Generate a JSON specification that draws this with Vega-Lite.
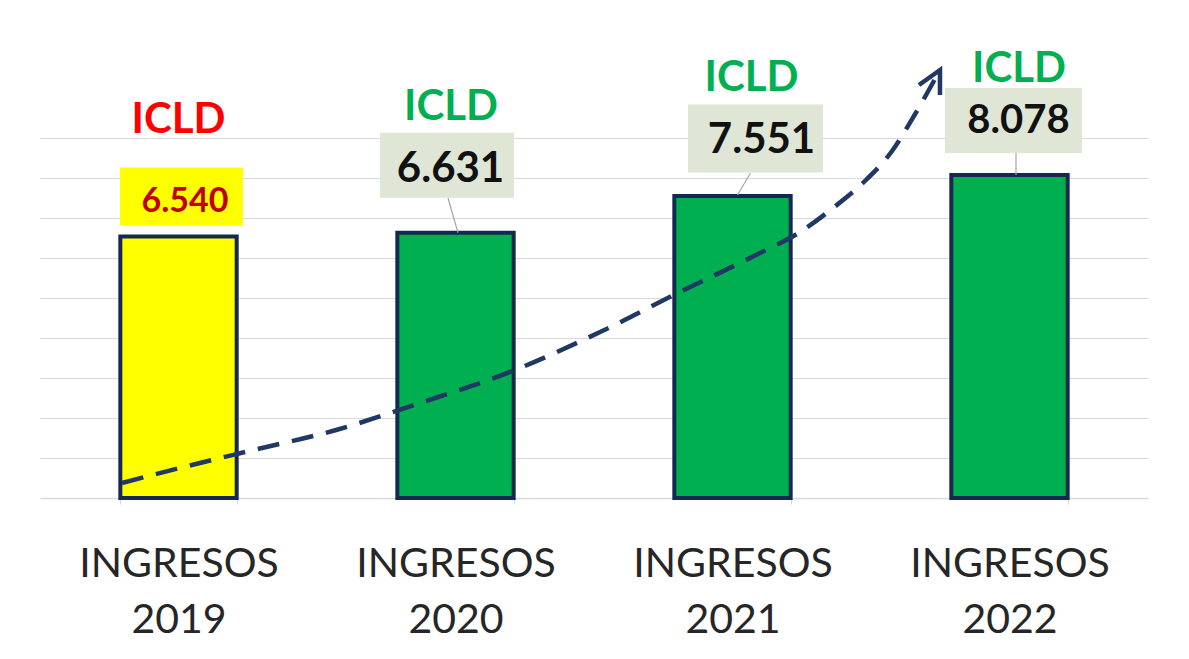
{
  "$schema": "https://vega.github.io/schema/vega-lite/v6.json",
  "width": 1108,
  "height": 360,
  "autosize": {"type": "none"},
  "padding": {"left": 40, "top": 138, "right": 41, "bottom": 161},
  "background": "#FFFFFF",
  "config": {
    "view": {"stroke": null},
    "locale": {"number": {"decimal": ",", "thousands": ".", "grouping": [3], "currency": ["", " €"]}}
  },
  "datasets": {
    "ingresos": [
      {"year": "INGRESOS 2019", "value": 6540},
      {"year": "INGRESOS 2020", "value": 6631},
      {"year": "INGRESOS 2021", "value": 7551},
      {"year": "INGRESOS 2022", "value": 8078}
    ],
    "curva": [
      {"cx": 0.296, "cy": 375},
      {"cx": 0.505, "cy": 750},
      {"cx": 0.74, "cy": 1150},
      {"cx": 1.069, "cy": 1700},
      {"cx": 1.361, "cy": 2350},
      {"cx": 1.715, "cy": 3200},
      {"cx": 2.022, "cy": 4150},
      {"cx": 2.303, "cy": 5125},
      {"cx": 2.599, "cy": 6125},
      {"cx": 2.744, "cy": 6650},
      {"cx": 2.863, "cy": 7250},
      {"cx": 2.982, "cy": 7950},
      {"cx": 3.076, "cy": 8675},
      {"cx": 3.155, "cy": 9550},
      {"cx": 3.249, "cy": 10700}
    ]
  },
  "layer": [
    {
      "data": {"name": "ingresos"},
      "resolve": {"scale": {"shape": "independent"}},
      "layer": [
        {
          "mark": {"type": "bar", "stroke": "#142850", "strokeWidth": 4},
          "encoding": {
            "x": {
              "field": "year", "type": "nominal", "sort": null,
              "scale": {"domain": ["INGRESOS 2019", "INGRESOS 2020", "INGRESOS 2021", "INGRESOS 2022"], "paddingInner": 0.58, "paddingOuter": 0.29},
              "axis": {
                "title": null, "labelAngle": 0,
                "labelExpr": "split(datum.label, ' ')",
                "labelFont": "Lato", "labelFontSize": 41, "labelColor": "#262626",
                "labelLineHeight": 56, "labelBaseline": "alphabetic", "labelPadding": 72,
                "labelOverlap": false, "labelBound": false, "labelLimit": 500,
                "domainColor": "#D9D9D9", "domainWidth": 1.5,
                "tickColor": "#D9D9D9", "tickBand": "extent", "tickSize": 6
              }
            },
            "y": {
              "field": "value", "type": "quantitative",
              "scale": {"domain": [0, 9000], "nice": false},
              "axis": {"title": null, "labels": false, "ticks": false, "domain": false, "grid": true, "gridColor": "#D9D9D9", "gridWidth": 1.2, "values": [1000, 2000, 3000, 4000, 5000, 6000, 7000, 8000, 9000]}
            },
            "color": {"condition": {"test": "datum.year == 'INGRESOS 2019'", "value": "#FFFF00"}, "value": "#00B050"}
          }
        },
        {
          "mark": {"type": "point", "filled": false, "size": 2500, "color": "#A6A6A6", "strokeWidth": 1.2, "opacity": 1},
          "encoding": {
            "x": {"field": "year", "type": "nominal"},
            "y": {"field": "value", "type": "quantitative"},
            "shape": {
              "field": "year", "type": "nominal", "legend": null,
              "scale": {"domain": ["INGRESOS 2019", "INGRESOS 2020", "INGRESOS 2021", "INGRESOS 2022"], "range": ["M0,0L0,0", "M-0.3,-1.39L0.1,0", "M0.72,-0.92L0.2,-0.04", "M0.26,-0.88L0.26,0"]}
            }
          }
        },
        {
          "mark": {"type": "point", "filled": true, "size": 10000, "opacity": 1, "strokeWidth": 0},
          "encoding": {
            "x": {"field": "year", "type": "nominal"},
            "y": {"field": "value", "type": "quantitative"},
            "shape": {
              "field": "year", "type": "nominal", "legend": null,
              "scale": {"domain": ["INGRESOS 2019", "INGRESOS 2020", "INGRESOS 2021", "INGRESOS 2022"], "range": ["M-1.17,-1.38H1.29V-0.22H-1.17Z", "M-1.51,-2.0H1.17V-0.7H-1.51Z", "M-0.89,-1.83H1.81V-0.47H-0.89Z", "M-1.29,-1.74H1.45V-0.44H-1.29Z"]}
            },
            "fill": {"condition": {"test": "datum.year == 'INGRESOS 2019'", "value": "#FFFF00"}, "value": "#DFE6D6"}
          }
        },
        {
          "transform": [{"filter": {"field": "year", "equal": "INGRESOS 2019"}}],
          "mark": {"type": "text", "font": "Lato", "fontWeight": "bold", "fontSize": 34, "color": "#C00000", "align": "center", "baseline": "alphabetic", "dx": 6.5, "dy": -24.4},
          "encoding": {"x": {"field": "year", "type": "nominal"}, "y": {"field": "value", "type": "quantitative"}, "text": {"field": "value", "type": "quantitative", "format": ",d"}}
        },
        {
          "transform": [{"filter": {"field": "year", "equal": "INGRESOS 2020"}}],
          "mark": {"type": "text", "font": "Lato", "fontWeight": "bold", "fontSize": 42, "color": "#111111", "align": "center", "baseline": "alphabetic", "dx": -5, "dy": -50.8},
          "encoding": {"x": {"field": "year", "type": "nominal"}, "y": {"field": "value", "type": "quantitative"}, "text": {"field": "value", "type": "quantitative", "format": ",d"}}
        },
        {
          "transform": [{"filter": {"field": "year", "equal": "INGRESOS 2021"}}],
          "mark": {"type": "text", "font": "Lato", "fontWeight": "bold", "fontSize": 42, "color": "#111111", "align": "center", "baseline": "alphabetic", "dx": 29, "dy": -43},
          "encoding": {"x": {"field": "year", "type": "nominal"}, "y": {"field": "value", "type": "quantitative"}, "text": {"field": "value", "type": "quantitative", "format": ",d"}}
        },
        {
          "transform": [{"filter": {"field": "year", "equal": "INGRESOS 2022"}}],
          "mark": {"type": "text", "font": "Lato", "fontWeight": "bold", "fontSize": 40, "color": "#111111", "align": "center", "baseline": "alphabetic", "dx": 9, "dy": -42},
          "encoding": {"x": {"field": "year", "type": "nominal"}, "y": {"field": "value", "type": "quantitative"}, "text": {"field": "value", "type": "quantitative", "format": ",d"}}
        },
        {
          "transform": [{"filter": {"field": "year", "equal": "INGRESOS 2019"}}],
          "mark": {"type": "text", "font": "Lato", "fontWeight": "bold", "fontSize": 42, "color": "#FF0000", "align": "center", "baseline": "alphabetic", "dx": 0, "dy": -103.4},
          "encoding": {"x": {"field": "year", "type": "nominal"}, "y": {"field": "value", "type": "quantitative"}, "text": {"value": "ICLD"}}
        },
        {
          "transform": [{"filter": {"field": "year", "equal": "INGRESOS 2020"}}],
          "mark": {"type": "text", "font": "Lato", "fontWeight": "bold", "fontSize": 42, "color": "#00B050", "align": "center", "baseline": "alphabetic", "dx": -4.5, "dy": -112.8},
          "encoding": {"x": {"field": "year", "type": "nominal"}, "y": {"field": "value", "type": "quantitative"}, "text": {"value": "ICLD"}}
        },
        {
          "transform": [{"filter": {"field": "year", "equal": "INGRESOS 2021"}}],
          "mark": {"type": "text", "font": "Lato", "fontWeight": "bold", "fontSize": 42, "color": "#00B050", "align": "center", "baseline": "alphabetic", "dx": 19, "dy": -105},
          "encoding": {"x": {"field": "year", "type": "nominal"}, "y": {"field": "value", "type": "quantitative"}, "text": {"value": "ICLD"}}
        },
        {
          "transform": [{"filter": {"field": "year", "equal": "INGRESOS 2022"}}],
          "mark": {"type": "text", "font": "Lato", "fontWeight": "bold", "fontSize": 42, "color": "#00B050", "align": "center", "baseline": "alphabetic", "dx": 9.5, "dy": -92.9},
          "encoding": {"x": {"field": "year", "type": "nominal"}, "y": {"field": "value", "type": "quantitative"}, "text": {"value": "ICLD"}}
        }
      ]
    },
    {
      "data": {"name": "curva"},
      "layer": [
        {
          "mark": {"type": "line", "interpolate": "monotone", "color": "#1F3864", "strokeWidth": 4.5, "strokeDash": [22, 13]},
          "encoding": {
            "x": {"field": "cx", "type": "quantitative", "scale": {"domain": [0, 4], "nice": false, "zero": false}, "axis": null},
            "y": {"field": "cy", "type": "quantitative", "scale": {"domain": [0, 9000], "nice": false}}
          }
        },
        {
          "transform": [{"filter": "datum.cx > 3.2"}],
          "mark": {"type": "point", "filled": false, "shape": "M-1.05,0.75L0,0L0,1.25", "size": 1600, "color": "#1F3864", "strokeWidth": 4.5, "opacity": 1},
          "encoding": {
            "x": {"field": "cx", "type": "quantitative"},
            "y": {"field": "cy", "type": "quantitative"}
          }
        }
      ]
    }
  ],
  "resolve": {"scale": {"x": "independent"}}
}
